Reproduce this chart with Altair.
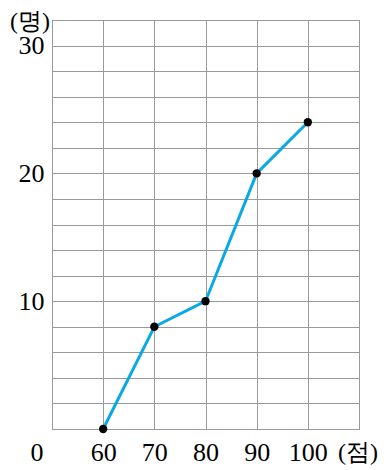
import altair as alt
import pandas as pd

scores = [60, 70, 80, 90, 100]
counts = [0, 8, 10, 20, 24]

df = pd.DataFrame({"score": scores, "count": counts})
FONT = "Liberation Serif"
FS = 26

x = alt.X("score:Q", scale=alt.Scale(domain=[50, 110], nice=False, zero=False),
          axis=alt.Axis(values=[50, 60, 70, 80, 90, 100, 110], title=None,
                        labelExpr="datum.value >= 60 && datum.value <= 100 ? datum.label : ''",
                        grid=True, gridColor="#999", gridWidth=1, ticks=False, domain=False,
                        labelFont=FONT, labelFontSize=FS, labelColor="black", labelPadding=10))
y = alt.Y("count:Q", scale=alt.Scale(domain=[0, 32], nice=False),
          axis=alt.Axis(values=list(range(0, 33, 2)), title=None,
                        labelExpr="datum.value % 10 == 0 && datum.value > 0 ? datum.label : ''",
                        grid=True, gridColor="#999", gridWidth=1, ticks=False, domain=False,
                        labelFont=FONT, labelFontSize=FS, labelColor="black", labelPadding=8))

line = alt.Chart(df).mark_line(color="#0AA8E6", strokeWidth=3).encode(x=x, y=y)
pts = alt.Chart(df).mark_point(filled=True, color="black", size=70, opacity=1).encode(x=x, y=y)

def label(text, px, py, fs=FS, baseline="middle"):
    return alt.Chart(pd.DataFrame({"t": [text]})).mark_text(
        font=FONT, fontSize=fs, color="black", align="center", baseline=baseline
    ).encode(text="t:N", x=alt.value(px), y=alt.value(py))

chart = alt.layer(
    line, pts,
    label("0", -15, 24 + 409),
    label("(점)", 306, 24 + 409, 24),
    label("(명)", -22, -10, 24, "top"),
).properties(
    width=307, height=409,
    autosize=alt.AutoSizeParams(type="none"),
    padding={"left": 44, "top": 12, "right": 20, "bottom": 42},
).configure_view(stroke="#999", strokeWidth=1)

chart.save("out.html", embed_options={"renderer": "svg", "actions": False})
